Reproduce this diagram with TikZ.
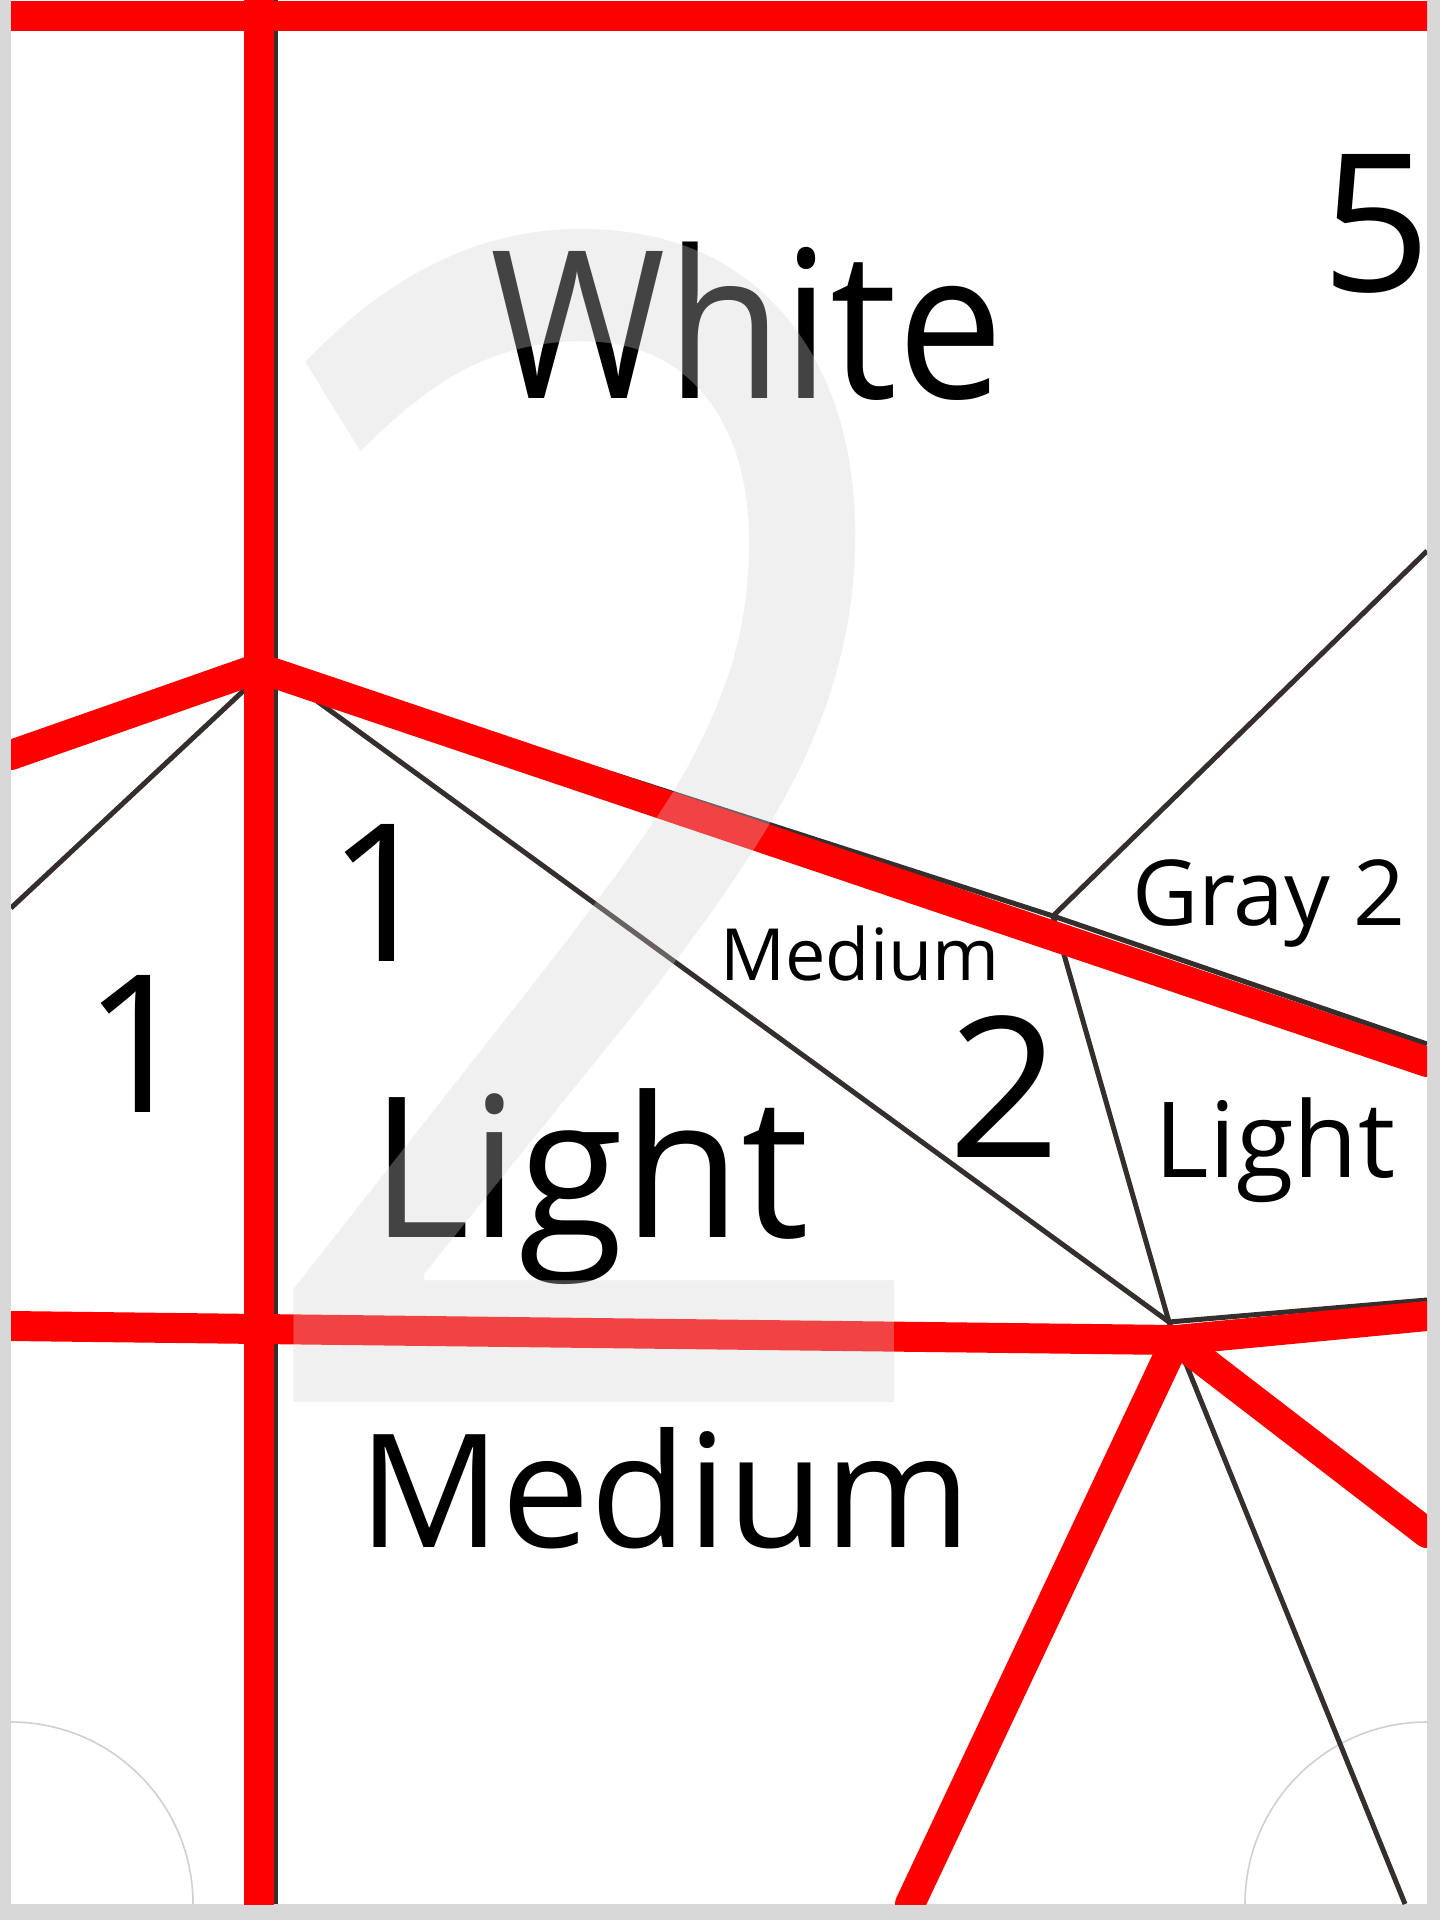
\documentclass[tikz,border=0pt]{standalone}
\usepackage{fontspec}
\setmainfont{Open Sans}
\definecolor{roadred}{RGB}{255,0,0}
\definecolor{pathgray}{RGB}{52,46,44}
\definecolor{framegray}{RGB}{216,216,216}
\definecolor{ringgray}{RGB}{208,208,208}
\definecolor{markgray}{RGB}{214,210,210}

\begin{document}
\begin{tikzpicture}[
  x=0.5pt, y=-0.5pt,
  %% Line styles
  rline/.style={draw=roadred, line width=15pt, line cap=round},
  tline/.style={draw=pathgray, line width=2.5pt},
  ring/.style={draw=ringgray, line width=0.8pt},
  %% Label style
  lbl/.style={inner sep=0pt, anchor=base, text=black},
]
\useasboundingbox (0,0) rectangle (1440,1920);
\fill[framegray] (0,0) rectangle (1440,1920);
\fill[white] (11,0) rectangle (1427,1904);

\begin{scope}
\clip (11,0) rectangle (1427,1904);

%% =============================================================
%%  Junctions
%% =============================================================
\coordinate (jA) at (259,668);
\coordinate (jB) at (1053,916);
\coordinate (jC) at (1176,1340);
\coordinate (hA1) at (255,680);
\coordinate (hA2) at (284,677);
\coordinate (hA3) at (284,668);
\coordinate (hC) at (1169,1322);

%% corner rings
\draw[ring] (11,1904) circle[radius=182];
\draw[ring] (1427,1904) circle[radius=182];

%% =============================================================
%%  Thin boundaries
%% =============================================================
\draw[tline] (11,908) -- (hA1);
\draw[tline] (hA2) -- (hC);
\draw[tline] (hA3) -- (jB);
\draw[tline] (jB) -- (1427,551);
\draw[tline] (jB) -- (hC);
\draw[tline] (jB) -- (1427,1044);
\draw[tline] (hC) -- (1427,1300);
\draw[tline] (hC) -- (1405,1904);
\draw[tline] (275.5,0) -- (275.5,1904);

%% =============================================================
%%  Red lines
%% =============================================================
\draw[rline] (11,16) -- (1427,16);
\draw[rline] (259,0) -- (259,1904);
\draw[rline] (11,755) -- (jA);
\draw[rline] (jA) -- (1427,1062);
\draw[rline] (11,1326) -- (jC);
\draw[rline] (jC) -- (910,1904);
\draw[rline] (jC) -- (1427,1533);
\draw[rline] (jC) -- (1427,1316);

%% =============================================================
%%  Labels
%% =============================================================
\node[lbl, xscale=0.92, font=\fontsize{103}{103}\selectfont] (white) at (747,398) {White};
\node[lbl, font=\fontsize{96}{96}\selectfont] (five) at (1376,292) {5};
\node[lbl, font=\fontsize{45.5}{45.5}\selectfont] (gray) at (1269,925) {Gray 2};
\node[lbl, font=\fontsize{36}{36}\selectfont] (medsm) at (860,980) {Medium};
\node[lbl, font=\fontsize{98}{98}\selectfont] (two) at (1005,1157) {2};
\node[lbl, font=\fontsize{52.5}{52.5}\selectfont] (lightsm) at (1275,1177) {Light};
\node[lbl, font=\fontsize{96}{96}\selectfont] (oneL) at (138,1112) {1};
\node[lbl, font=\fontsize{96}{96}\selectfont] (oneR) at (382,961) {1};
\node[lbl, xscale=0.98, font=\fontsize{98}{98}\selectfont] (light) at (590,1237) {Light};
\node[lbl, font=\fontsize{79}{79}\selectfont] (medium) at (665,1547) {Medium};

%% watermark
\node[anchor=base, inner sep=0pt, text=markgray, opacity=0.32, xscale=0.79,
      font=\fontsize{810}{810}\selectfont] (mark) at (597,1402) {2};
\end{scope}
\end{tikzpicture}
\end{document}
